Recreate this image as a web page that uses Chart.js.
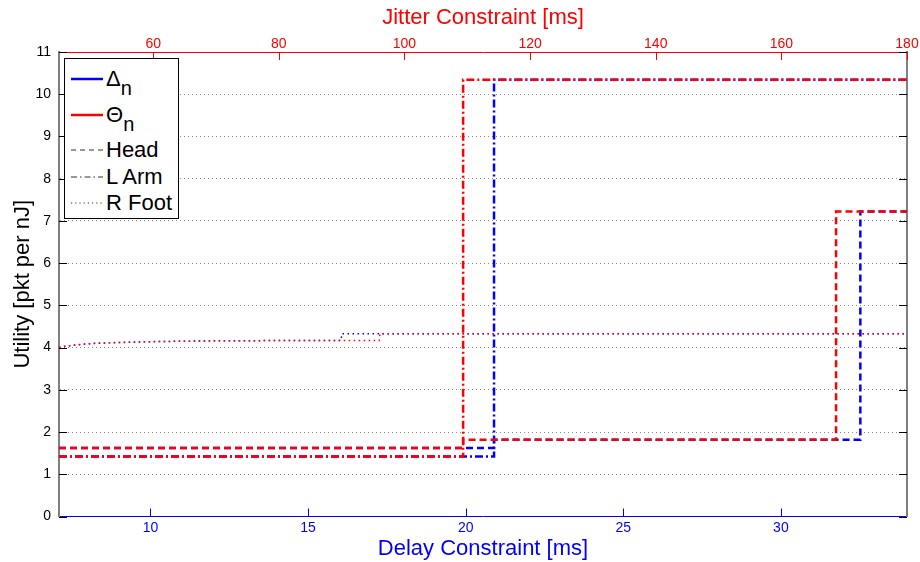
<!DOCTYPE html>
<html>
<head>
<meta charset="utf-8">
<script src="https://cdn.jsdelivr.net/npm/chart.js@4.4.0/dist/chart.umd.min.js"></script>
<style>
  body { margin: 0; background: #fff; }
  #wrap { position: relative; width: 920px; height: 562px; font-family: "Liberation Sans", Arial, sans-serif; }
  #legend {
    position: absolute; left: 64px; top: 58px; width: 115px; height: 161px;
    border: 1.5px solid #000; background: #fff; box-sizing: border-box;
  }
  .item { position: absolute; left: 0; height: 26px; width: 112px; }
  .item svg { position: absolute; left: 6px; top: 0; }
  .item span { position: absolute; left: 41px; top: 0; font-size: 22px; line-height: 26px; color: #000; white-space: nowrap; }
  .item sub { font-size: 20px; vertical-align: -9px; line-height: 0; }
</style>
</head>
<body>
<div id="wrap">
  <canvas id="chart" width="920" height="562"></canvas>
  <div id="legend"></div>
</div>
<script>
// Axis ranges and tick labels
const delayMin = 7.1, delayMax = 34;
const jitterMin = 45, jitterMax = 180;
const delayTicks = [10, 15, 20, 25, 30];
const jitterTicks = [60, 80, 100, 120, 140, 160, 180];
const utilityTicks = [0, 1, 2, 3, 4, 5, 6, 7, 8, 9, 10, 11];

// Head (dashed)
const headDeltaX = [7.1, 20.9, 32.52, 34];
const headDeltaY = [1.62, 1.82, 7.22, 7.22];
const headThetaX = [7.1, 19.92, 31.75, 34];
const headThetaY = [1.62, 1.82, 7.22, 7.22];

// L Arm (dash-dot)
const armDeltaX = [7.1, 20.9, 34];
const armDeltaY = [1.42, 10.34, 10.34];
const armThetaX = [7.1, 19.92, 34];
const armThetaY = [1.42, 10.34, 10.34];

// R Foot (dotted)
const footDeltaX = [7.1, 7.3, 7.6, 8.0, 8.5, 9.0, 10, 11, 12, 13, 14, 15, 16.05, 16.07, 34];
const footDeltaY = [4.0, 4.03, 4.06, 4.09, 4.11, 4.12, 4.14, 4.15, 4.16, 4.16, 4.17, 4.17, 4.17, 4.33, 4.33];
const footThetaX = [7.1, 7.3, 7.6, 8.0, 8.5, 9.0, 10, 11, 12, 13, 14, 15, 16, 17.26, 17.28, 34];
const footThetaY = [4.0, 4.03, 4.06, 4.09, 4.11, 4.12, 4.14, 4.15, 4.16, 4.16, 4.17, 4.17, 4.17, 4.17, 4.33, 4.33];

const BLUE = '#0000ff';
const RED = '#ff0000';
const DASH = [7, 4];
const DASHDOT = [8, 3, 2, 3];
const DOT = [1.5, 3.5];

function pts(xs, ys) {
  return xs.map((x, i) => ({ x: x, y: ys[i] }));
}

function series(label, xs, ys, color, dash, width, stepped) {
  return {
    label: label,
    data: pts(xs, ys),
    borderColor: color,
    borderWidth: width,
    borderDash: dash,
    pointRadius: 0,
    fill: false,
    tension: 0,
    // 'before' = hold the value, then jump at the next x
    stepped: stepped ? 'before' : false,
    xAxisID: 'x',
    yAxisID: 'y'
  };
}

// Inward tick marks, MATLAB style
const innerTicks = {
  id: 'innerTicks',
  afterDraw(chart) {
    const ctx = chart.ctx;
    const a = chart.chartArea;
    const len = 8;
    ctx.save();
    ctx.lineWidth = 1;
    const s = chart.scales;
    ctx.strokeStyle = BLUE;
    s.x.ticks.forEach(t => {
      const p = Math.round(s.x.getPixelForValue(t.value)) + 0.5;
      ctx.beginPath(); ctx.moveTo(p, a.bottom); ctx.lineTo(p, a.bottom - len); ctx.stroke();
    });
    ctx.strokeStyle = RED;
    s.x2.ticks.forEach(t => {
      const p = Math.round(s.x2.getPixelForValue(t.value)) + 0.5;
      ctx.beginPath(); ctx.moveTo(p, a.top); ctx.lineTo(p, a.top + len); ctx.stroke();
    });
    ctx.strokeStyle = '#000';
    s.y.ticks.forEach(t => {
      const p = Math.round(s.y.getPixelForValue(t.value)) + 0.5;
      ctx.beginPath(); ctx.moveTo(a.left, p); ctx.lineTo(a.left + len, p); ctx.stroke();
      ctx.beginPath(); ctx.moveTo(a.right, p); ctx.lineTo(a.right - len, p); ctx.stroke();
    });
    ctx.restore();
  }
};

const tickFont = { family: '"Liberation Sans", Arial, sans-serif', size: 14 };
const titleFont = { family: '"Liberation Sans", Arial, sans-serif', size: 22 };

new Chart(document.getElementById('chart').getContext('2d'), {
  type: 'line',
  data: {
    datasets: [
      series('Θn Head', headThetaX, headThetaY, RED, DASH, 2.5, true),
      series('Θn L Arm', armThetaX, armThetaY, RED, DASHDOT, 2.5, true),
      series('Θn R Foot', footThetaX, footThetaY, RED, DOT, 1.5, false),
      series('Δn Head', headDeltaX, headDeltaY, BLUE, DASH, 2.5, true),
      series('Δn L Arm', armDeltaX, armDeltaY, BLUE, DASHDOT, 2.5, true),
      series('Δn R Foot', footDeltaX, footDeltaY, BLUE, DOT, 1.5, false)
    ]
  },
  options: {
    responsive: false,
    animation: false,
    layout: { padding: 0 },
    plugins: { legend: { display: false }, tooltip: { enabled: false } },
    scales: {
      x: {
        type: 'linear', position: 'bottom', min: delayMin, max: delayMax,
        afterBuildTicks: sc => { sc.ticks = delayTicks.map(v => ({ value: v })); },
        afterFit: sc => { sc.height = 45.5; },
        grid: { display: false, drawTicks: false },
        border: { color: BLUE, width: 1 },
        ticks: { color: BLUE, font: tickFont, padding: 3, maxRotation: 0 },
        title: { display: true, text: 'Delay Constraint [ms]', color: BLUE, font: titleFont, padding: { top: 0, bottom: 0 } }
      },
      x2: {
        type: 'linear', position: 'top', min: jitterMin, max: jitterMax,
        afterBuildTicks: sc => { sc.ticks = jitterTicks.map(v => ({ value: v })); },
        afterFit: sc => { sc.height = 52; },
        grid: { display: false, drawTicks: false },
        border: { color: RED, width: 1 },
        ticks: { color: RED, font: tickFont, padding: -1, maxRotation: 0 },
        title: { display: true, text: 'Jitter Constraint [ms]', color: RED, font: titleFont, padding: { top: 5, bottom: 0 } }
      },
      y: {
        type: 'linear', position: 'left', min: 0, max: 11,
        afterBuildTicks: sc => { sc.ticks = utilityTicks.map(v => ({ value: v })); },
        afterFit: sc => { sc.width = 59; },
        grid: { color: '#8a8a8a', lineWidth: 1, drawTicks: false },
        border: { color: '#808080', width: 2, dash: [1, 3] },
        ticks: { color: '#000', font: tickFont, padding: 8 },
        title: { display: true, text: 'Utility [pkt per nJ]', color: '#000', font: titleFont, padding: { top: 10, bottom: 0 } }
      },
      y2: {
        type: 'linear', position: 'right', min: 0, max: 11,
        afterFit: sc => { sc.width = 13; },
        grid: { display: false, drawTicks: false },
        border: { color: '#808080', width: 2 },
        ticks: { display: false }
      }
    }
  },
  plugins: [innerTicks]
});

// Legend entries drawn as HTML text with small line samples
const legendItems = [
  { name: 'Δ', sub: 'n', color: BLUE, dash: '', width: 2.5 },
  { name: 'Θ', sub: 'n', color: RED, dash: '', width: 2.5 },
  { name: 'Head', sub: '', color: '#333', dash: '5,4', width: 1.2 },
  { name: 'L Arm', sub: '', color: '#333', dash: '6,3,1.5,3', width: 1.2 },
  { name: 'R Foot', sub: '', color: '#333', dash: '1.2,3', width: 1.2 }
];
const legendRowY = [7, 43, 78, 105, 131];
const legendEl = document.getElementById('legend');
legendItems.forEach((it, i) => {
  const row = document.createElement('div');
  row.className = 'item';
  row.style.top = legendRowY[i] + 'px';
  row.innerHTML =
    '<svg width="34" height="26"><line x1="0" y1="13" x2="32" y2="13" stroke="' + it.color +
    '" stroke-width="' + it.width + '" stroke-dasharray="' + it.dash + '"/></svg>' +
    '<span>' + it.name + (it.sub ? '<sub>' + it.sub + '</sub>' : '') + '</span>';
  legendEl.appendChild(row);
});
</script>
</body>
</html>
